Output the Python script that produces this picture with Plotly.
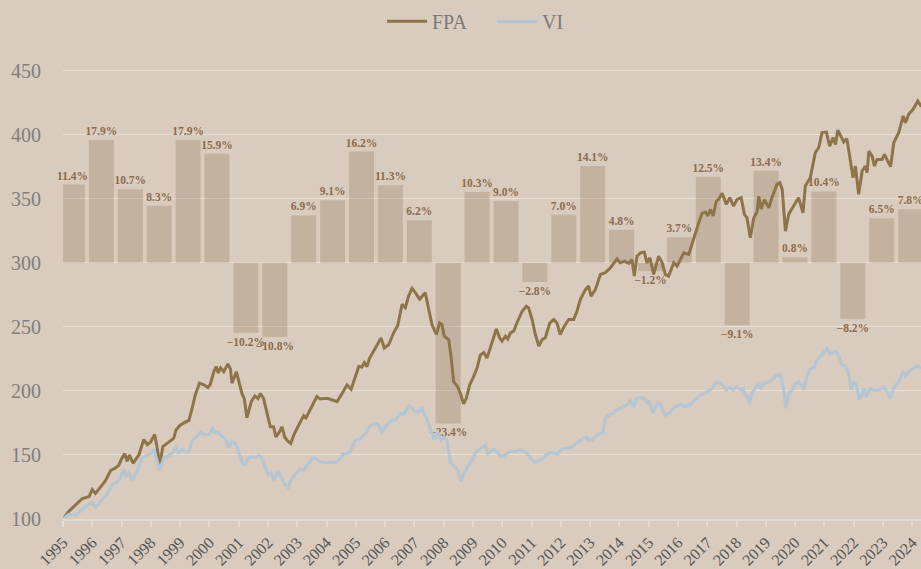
import plotly.graph_objects as go

# ---------------- data ----------------
years = list(range(1995, 2025))
year_labels = [str(y) for y in years]
annual_return_pct = [11.4, 17.9, 10.7, 8.3, 17.9, 15.9, -10.2, -10.8, 6.9, 9.1,
                     16.2, 11.3, 6.2, -23.4, 10.3, 9.0, -2.8, 7.0, 14.1, 4.8,
                     -1.2, 3.7, 12.5, -9.1, 13.4, 0.8, 10.4, -8.2, 6.5, 7.8]

fpa_t = [1995.00, 1995.20, 1995.43, 1995.66, 1995.89, 1996.00, 1996.11, 1996.28, 1996.45, 1996.63,
         1996.80, 1996.91, 1997.00, 1997.11, 1997.19, 1997.27, 1997.39, 1997.59, 1997.76, 1997.88,
         1997.99, 1998.13, 1998.22, 1998.30, 1998.41, 1998.61, 1998.78, 1998.86, 1998.99, 1999.13,
         1999.30, 1999.41, 1999.52, 1999.66, 1999.81, 1999.95, 2000.03, 2000.15, 2000.23, 2000.30,
         2000.38, 2000.49, 2000.63, 2000.72, 2000.77, 2000.92, 2000.98, 2001.11, 2001.19, 2001.28,
         2001.43, 2001.55, 2001.66, 2001.74, 2001.85, 2001.98, 2002.08, 2002.19, 2002.27, 2002.39,
         2002.48, 2002.57, 2002.67, 2002.78, 2002.88, 2003.05, 2003.22, 2003.30, 2003.41, 2003.52,
         2003.67, 2003.78, 2004.02, 2004.19, 2004.36, 2004.53, 2004.70, 2004.84, 2004.98, 2005.10,
         2005.21, 2005.29, 2005.38, 2005.47, 2005.67, 2005.86, 2005.97, 2006.12, 2006.29, 2006.43,
         2006.58, 2006.69, 2006.80, 2006.92, 2007.03, 2007.18, 2007.37, 2007.49, 2007.60, 2007.75,
         2007.86, 2007.94, 2008.02, 2008.17, 2008.25, 2008.34, 2008.48, 2008.57, 2008.68, 2008.77,
         2008.89, 2009.00, 2009.14, 2009.25, 2009.37, 2009.48, 2009.62, 2009.80, 2009.91, 2009.99,
         2010.11, 2010.19, 2010.28, 2010.39, 2010.50, 2010.68, 2010.82, 2010.90, 2011.02, 2011.13,
         2011.25, 2011.36, 2011.47, 2011.62, 2011.76, 2011.87, 2011.98, 2012.12, 2012.27, 2012.44,
         2012.55, 2012.67, 2012.84, 2012.95, 2013.03, 2013.18, 2013.35, 2013.52, 2013.69, 2013.92,
         2014.03, 2014.17, 2014.32, 2014.43, 2014.51, 2014.60, 2014.72, 2014.85, 2014.94, 2015.04,
         2015.17, 2015.34, 2015.46, 2015.57, 2015.68, 2015.86, 2015.97, 2016.20, 2016.37, 2016.54,
         2016.71, 2016.82, 2016.94, 2017.02, 2017.11, 2017.20, 2017.31, 2017.39, 2017.51, 2017.65,
         2017.77, 2017.90, 2018.02, 2018.16, 2018.27, 2018.36, 2018.47, 2018.59, 2018.70, 2018.76,
         2018.84, 2018.95, 2019.10, 2019.21, 2019.38, 2019.48, 2019.56, 2019.67, 2019.78, 2019.95,
         2020.12, 2020.27, 2020.35, 2020.52, 2020.69, 2020.81, 2020.92, 2021.07, 2021.18, 2021.30,
         2021.38, 2021.46, 2021.57, 2021.66, 2021.77, 2021.89, 2021.98, 2022.06, 2022.17, 2022.29,
         2022.40, 2022.46, 2022.52, 2022.63, 2022.71, 2022.80, 2022.97, 2023.05, 2023.14, 2023.26,
         2023.37, 2023.54, 2023.69, 2023.77, 2023.88, 2024.03, 2024.19, 2024.31]
fpa_v = [100, 106, 111, 116, 117.5, 123, 120, 125, 130, 138,
         140, 142, 147, 151, 145, 150, 143.5, 150, 162, 158,
         160, 166, 155, 142, 156.5, 160, 163, 169.5, 173, 175,
         177, 186.5, 197, 206, 204.7, 202.6, 205, 215, 219, 214,
         218, 215, 221, 217, 206, 215, 210, 198, 194, 179,
         191.7, 196, 194, 198, 194, 181, 172, 172, 164, 168,
         172, 164, 161, 159, 165.6, 173.4, 180.7, 179, 184, 189,
         195.6, 193.75, 194.2, 193, 191.6, 198, 204.7, 201.3, 211, 219,
         218.6, 222, 219, 225.6, 233.5, 241.4, 233.5, 236, 245.3, 251,
         267.5, 265, 274, 280, 276.7, 271.5, 276.7, 265, 251.8, 244,
         253, 251.8, 242.7, 240, 227, 207.3, 203, 198, 190, 194,
         204.7, 210, 217.8, 228, 230, 225.6, 234.8, 248.4, 241.4, 238.8,
         242.7, 240.6, 245.3, 246.6, 253, 262.2, 266, 264.8, 255.7, 244,
         235, 240, 241.4, 253, 255.7, 253, 244, 250.5, 255.7, 255.7,
         262.2, 271.4, 279, 281.8, 274, 279, 290.9, 292.2, 296, 303,
         300, 301.3, 299.5, 302.6, 289.6, 305.2, 307.8, 308.3, 300, 303.9,
         290.9, 305.2, 300, 290.9, 289.6, 300, 297.4, 307.8, 306.5, 319.5,
         331.25, 338.5, 339.6, 336.5, 341.7, 336.5, 348.2, 349.5, 354.2, 345.6,
         350.8, 344.3, 349.5, 350.8, 337.8, 335, 319.5, 335, 339.6, 352,
         342, 349.5, 343, 350.8, 361.2, 362.5, 357.3, 324.7, 337.8, 344.3,
         350.8, 339, 360, 366.4, 386, 390, 401.6, 402, 391, 397.7,
         392.4, 403.6, 399, 394.3, 396.9, 380.7, 366.4, 375.5, 353.4, 371.6,
         375.5, 370.3, 387.2, 383.3, 375.5, 380.7, 380.7, 384.6, 380.7, 375,
         393.75, 401.6, 414.6, 409.4, 415.9, 419.8, 426.3, 421.9]

vi_t = [1995.00, 1995.20, 1995.43, 1995.66, 1995.89, 1996.00, 1996.11, 1996.28, 1996.45, 1996.68,
        1996.85, 1996.97, 1997.08, 1997.16, 1997.25, 1997.36, 1997.53, 1997.70, 1997.88, 1997.99,
        1998.10, 1998.22, 1998.30, 1998.44, 1998.61, 1998.73, 1998.84, 1998.95, 1999.07, 1999.18,
        1999.30, 1999.41, 1999.58, 1999.69, 1999.84, 1999.98, 2000.11, 2000.20, 2000.32, 2000.43,
        2000.55, 2000.66, 2000.77, 2000.86, 2000.98, 2001.11, 2001.20, 2001.32, 2001.45, 2001.57,
        2001.70, 2001.80, 2001.91, 2002.02, 2002.11, 2002.19, 2002.34, 2002.48, 2002.59, 2002.68,
        2002.80, 2002.93, 2003.10, 2003.22, 2003.36, 2003.52, 2003.61, 2003.78, 2004.02, 2004.24,
        2004.36, 2004.58, 2004.79, 2004.98, 2005.15, 2005.27, 2005.38, 2005.50, 2005.67, 2005.78,
        2005.89, 2006.06, 2006.24, 2006.38, 2006.52, 2006.63, 2006.84, 2007.03, 2007.15, 2007.26,
        2007.41, 2007.545, 2007.68, 2007.79, 2007.91, 2008.02, 2008.11, 2008.23, 2008.34, 2008.48,
        2008.59, 2008.71, 2008.80, 2008.97, 2009.08, 2009.25, 2009.42, 2009.50, 2009.59, 2009.73,
        2009.84, 2009.96, 2010.07, 2010.16, 2010.30, 2010.45, 2010.62, 2010.73, 2010.85, 2010.98,
        2011.13, 2011.24, 2011.36, 2011.51, 2011.64, 2011.78, 2011.89, 2012.01, 2012.16, 2012.33,
        2012.44, 2012.61, 2012.78, 2012.87, 2012.95, 2013.07, 2013.18, 2013.29, 2013.44, 2013.52,
        2013.64, 2013.78, 2013.86, 2014.01, 2014.13, 2014.24, 2014.38, 2014.49, 2014.60, 2014.72,
        2014.85, 2014.945, 2015.00, 2015.15, 2015.26, 2015.35, 2015.46, 2015.57, 2015.74, 2015.91,
        2016.08, 2016.23, 2016.37, 2016.42, 2016.59, 2016.77, 2016.94, 2017.05, 2017.16, 2017.28,
        2017.45, 2017.56, 2017.65, 2017.77, 2017.88, 2017.99, 2018.11, 2018.22, 2018.30, 2018.38,
        2018.45, 2018.53, 2018.64, 2018.76, 2018.84, 2018.95, 2019.065, 2019.21, 2019.36, 2019.50,
        2019.61, 2019.69, 2019.78, 2019.90, 2020.01, 2020.12, 2020.24, 2020.29, 2020.41, 2020.52,
        2020.66, 2020.75, 2020.92, 2021.01, 2021.09, 2021.18, 2021.30, 2021.41, 2021.49, 2021.60,
        2021.72, 2021.83, 2021.91, 2022.00, 2022.09, 2022.20, 2022.29, 2022.34, 2022.435, 2022.55,
        2022.66, 2022.80, 2022.91, 2023.03, 2023.14, 2023.25, 2023.39, 2023.54, 2023.69, 2023.77,
        2023.88, 2024.03, 2024.17, 2024.31]
vi_v = [100, 103.6, 103, 107.8, 112, 112.8, 109, 113.5, 117.4, 126.6,
        129, 133, 138.8, 133, 135.7, 130.5, 137, 147.4, 149.5, 151.3,
        154, 144.8, 138.3, 147.4, 150, 151.3, 155.7, 152, 154, 152,
        152.6, 161, 164.3, 167.7, 165.6, 166, 170.8, 167, 167.7, 164.3,
        163, 155.7, 160.4, 160, 154, 144.8, 141.7, 147.4, 148.7, 148,
        149.5, 146.9, 139.6, 134.4, 135.7, 130.5, 137, 130.5, 126.6, 124.7,
        130.5, 134.9, 138.8, 138.3, 142.2, 147.4, 147.4, 144.8, 143.8, 144.5,
        144.5, 151, 151.6, 161.5, 162.8, 165.4, 169.4, 172.8, 174.6, 173.3,
        168, 173.3, 177.2, 177.7, 182.5, 182, 188.2, 183.8, 183.8, 186.4,
        178.5, 169.4, 162, 168, 161.5, 164, 161.5, 144.5, 142, 138,
        129.6, 135.4, 140.6, 145.9, 151.6, 155, 157.6, 151, 153, 154,
        152, 148.7, 149.5, 151.3, 152.9, 152.6, 154, 152.9, 151.3, 146.9,
        144, 145.5, 146.9, 150.3, 152, 151.3, 150.8, 154, 155.2, 155.5,
        157.3, 160.8, 163.4, 163.9, 161.3, 161.8, 163.9, 166.5, 167, 178.3,
        181, 182.3, 184.9, 186.2, 188.1, 188.8, 192.3, 187.5, 194.1, 194.6,
        194.1, 190.2, 192.8, 182.8, 188.8, 190.7, 186.2, 181, 183.6, 187.5,
        189.6, 188.1, 189.6, 189, 193, 196.9, 198.2, 200.3, 202, 206,
        206.5, 203.9, 200.8, 202.9, 200.8, 203.4, 201.3, 202, 196.9, 195.6,
        189.8, 198.2, 202, 206.5, 201.3, 206, 206.5, 208.6, 211.7, 212.5,
        200.8, 186.5, 198.2, 200.8, 204.7, 207.3, 203.4, 200.8, 212.5, 216.9,
        218.5, 224.2, 228.9, 230.7, 233.3, 229.4, 229.9, 230.7, 226.8, 220.3,
        219, 213.8, 200.8, 207.3, 204.7, 193, 196.9, 202, 195.6, 202,
        200.8, 200.3, 201.3, 202.9, 199.5, 194.3, 203.4, 207.3, 215.1, 211.7,
        215.1, 217.7, 219.5, 217.7]

y_ticks = [100, 150, 200, 250, 300, 350, 400, 450]

# ---------------- styling ----------------
BG = "#d9cbbd"
FPA_COLOR = "#8c7548"
VI_COLOR = "#b5c6d2"
BAR_COLOR = "rgba(150,122,94,0.30)"
LABEL_COLOR = "#8b6c4e"
FONT = "Liberation Serif"

bar_text = [f"{v:.1f}%".replace("-", "\u2212") for v in annual_return_pct]

fig = go.Figure()

fig.add_trace(go.Bar(
    x=years, y=annual_return_pct, xaxis="x", yaxis="y",
    width=0.865, marker=dict(color=BAR_COLOR, line=dict(width=0)),
    text=bar_text, textposition="outside", cliponaxis=False,
    constraintext="none",
    textfont=dict(family=FONT, size=11.5, color=LABEL_COLOR, weight="bold"),
    showlegend=False, hoverinfo="skip",
))

fig.add_trace(go.Scatter(
    x=fpa_t, y=fpa_v, xaxis="x2", yaxis="y2", mode="lines", name="FPA",
    line=dict(color=FPA_COLOR, width=3),
))
fig.add_trace(go.Scatter(
    x=vi_t, y=vi_v, xaxis="x2", yaxis="y2", mode="lines", name="VI",
    line=dict(color=VI_COLOR, width=3.2),
))

fig.update_layout(
    width=921, height=569,
    margin=dict(l=63, r=0, t=45, b=50),
    paper_bgcolor=BG, plot_bgcolor=BG,
    font=dict(family=FONT, color="#7a7a7a"),
    showlegend=True,
    legend=dict(orientation="h", x=0.50, xanchor="center", y=1.05, yanchor="middle",
                font=dict(family=FONT, size=20, color="#7a7a7a"),
                bgcolor="rgba(0,0,0,0)", itemwidth=40,
                entrywidth=55, entrywidthmode="pixels"),
    xaxis=dict(range=[1994.671, 2024.36], visible=False, fixedrange=True),
    yaxis=dict(range=[-37.31, 31.72], visible=False, fixedrange=True),
    xaxis2=dict(overlaying="x", anchor="y2", side="bottom",
                range=[1995, 2024.3],
                tickvals=years, ticktext=year_labels, tickangle=-45,
                tickfont=dict(family=FONT, size=16, color="#555555"),
                showgrid=False, zeroline=False,
                showline=True, linecolor="#e2dcd6", linewidth=2,
                ticks="outside", ticklen=6, tickcolor="#e2dcd6", tickwidth=2),
    yaxis2=dict(overlaying="y", anchor="x2", side="left",
                range=[100, 470], tickvals=y_ticks,
                tickfont=dict(family=FONT, size=20, color="#7f7f7f"),
                showgrid=True, gridcolor="rgba(235,228,220,0.75)", gridwidth=1,
                zeroline=False, showline=False, ticks="",
                ticklabelstandoff=21),
)

fig.write_html("out.html", config={"displayModeBar": False},
               post_script="document.body.style.margin='0px';document.body.style.background='" + BG + "';")
